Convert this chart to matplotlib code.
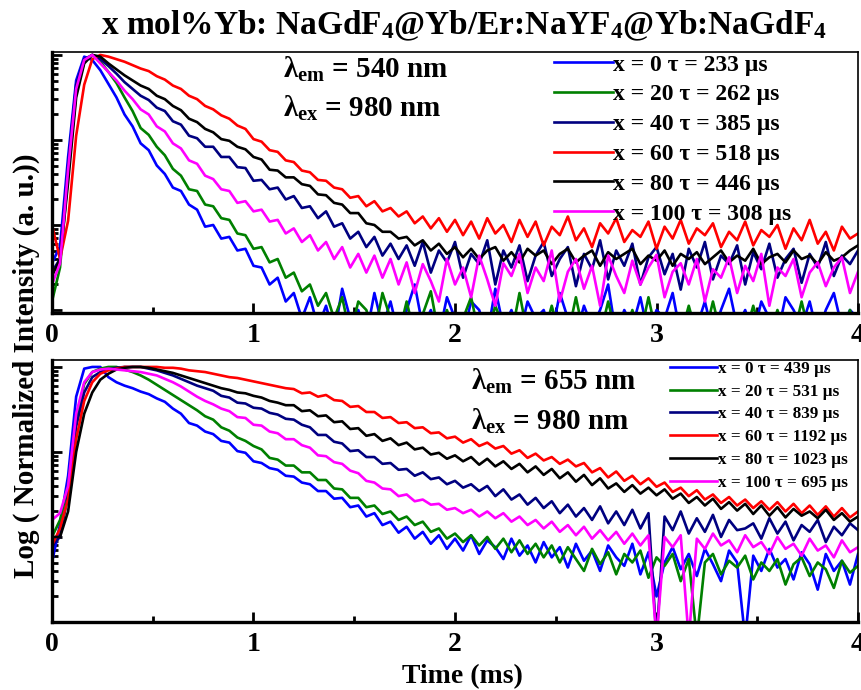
import numpy as np
import matplotlib.pyplot as plt
from matplotlib.ticker import MultipleLocator, NullFormatter, LogLocator

plt.rcParams['font.family'] = 'Liberation Serif'
plt.rcParams['font.weight'] = 'bold'
plt.rcParams['mathtext.fontset'] = 'custom'
plt.rcParams['mathtext.rm'] = 'Liberation Serif:bold'
plt.rcParams['mathtext.bf'] = 'Liberation Serif:bold'
plt.rcParams['mathtext.it'] = 'Liberation Serif:bold'

# time axis (ms), one sample every 0.04 ms
t = np.linspace(0, 4, 101)

colors = ['#0000ff', '#008000', '#000080', '#ff0000', '#000000', '#ff00ff']

# ---- top panel: 540 nm emission, log10 of normalized intensity ----
top_labels = ['x = 0 τ = 233 µs', 'x = 20 τ = 262 µs', 'x = 40 τ = 385 µs',
              'x = 60 τ = 518 µs', 'x = 80 τ = 446 µs', 'x = 100 τ = 308 µs']

top_x0 = [-2.45, -2.25, -1.20, -0.30, -0.02, -0.06, -0.18, -0.34, -0.50, -0.70,
          -0.84, -1.04, -1.12, -1.30, -1.40, -1.56, -1.60, -1.76, -1.82, -2.02,
          -2.00, -2.16, -2.14, -2.30, -2.28, -2.48, -2.50, -2.70, -2.62, -2.90,
          -2.80, -3.10, -2.85, -3.20, -2.95, -3.30, -2.75, -3.10, -3.00, -3.30,
          -2.80, -3.20, -2.90, -3.30, -3.00, -2.70, -3.20, -3.00, -3.30, -2.85,
          -3.10, -3.30, -2.90, -3.00, -3.30, -2.75, -3.20, -3.00, -3.30, -2.90,
          -3.10, -3.00, -3.30, -2.80, -3.10, -3.30, -2.95, -3.20, -3.00, -2.70,
          -3.30, -3.00, -3.20, -2.85, -3.30, -3.00, -3.10, -2.80, -3.30, -3.00,
          -3.20, -2.90, -3.30, -3.00, -2.75, -3.20, -3.00, -3.30, -2.90, -3.10,
          -3.30, -2.85, -3.00, -3.20, -2.90, -3.30, -3.00, -2.80, -3.20, -3.00,
          -3.10]
top_x20 = [-2.90, -2.50, -1.40, -0.45, -0.08, 0.00, -0.08, -0.20, -0.33, -0.50,
           -0.66, -0.86, -0.94, -1.08, -1.18, -1.34, -1.42, -1.58, -1.60, -1.76,
           -1.78, -1.92, -1.94, -2.10, -2.12, -2.28, -2.26, -2.44, -2.40, -2.62,
           -2.56, -2.78, -2.70, -2.95, -2.80, -3.10, -2.85, -3.30, -2.90, -3.00,
           -3.30, -2.80, -3.10, -3.30, -2.90, -3.30, -3.05, -2.78, -3.30, -3.00,
           -3.30, -3.10, -2.85, -3.30, -3.30, -2.95, -3.20, -3.30, -2.80, -3.30,
           -3.10, -3.30, -2.95, -3.30, -3.30, -2.85, -3.30, -3.10, -3.30, -2.90,
           -3.30, -3.30, -3.00, -3.30, -2.85, -3.30, -3.30, -3.05, -3.30, -2.95,
           -3.30, -3.30, -2.90, -3.30, -3.10, -3.30, -3.30, -2.95, -3.30, -3.30,
           -3.00, -3.30, -3.30, -2.90, -3.30, -3.30, -3.10, -3.30, -3.30, -3.00,
           -3.30]
top_x40 = [-2.55, -2.40, -1.30, -0.35, -0.05, 0.00, -0.05, -0.13, -0.22, -0.32,
           -0.40, -0.48, -0.53, -0.62, -0.66, -0.78, -0.82, -0.95, -0.98, -1.08,
           -1.08, -1.20, -1.20, -1.32, -1.33, -1.48, -1.47, -1.58, -1.56, -1.70,
           -1.66, -1.80, -1.78, -1.92, -1.84, -2.02, -1.98, -2.16, -2.08, -2.26,
           -2.14, -2.36, -2.22, -2.40, -2.24, -2.48, -2.20, -2.56, -2.30, -2.44,
           -2.20, -2.62, -2.34, -2.46, -2.18, -2.70, -2.30, -2.50, -2.24, -2.66,
           -2.36, -2.20, -2.60, -2.40, -2.26, -2.72, -2.34, -2.52, -2.18, -2.64,
           -2.30, -2.48, -2.22, -2.70, -2.38, -2.26, -2.58, -2.34, -2.76, -2.28,
           -2.50, -2.20, -2.64, -2.36, -2.46, -2.24, -2.70, -2.32, -2.52, -2.22,
           -2.62, -2.40, -2.28, -2.68, -2.34, -2.50, -2.20, -2.60, -2.36, -2.46,
           -2.30]
top_x60 = [-2.00, -2.40, -1.95, -0.95, -0.35, -0.05, 0.00, -0.02, -0.05, -0.08,
           -0.12, -0.16, -0.19, -0.25, -0.29, -0.36, -0.40, -0.48, -0.52, -0.60,
           -0.64, -0.71, -0.75, -0.83, -0.87, -0.99, -1.02, -1.12, -1.14, -1.24,
           -1.26, -1.36, -1.38, -1.47, -1.48, -1.56, -1.58, -1.68, -1.66, -1.78,
           -1.72, -1.84, -1.80, -1.90, -1.84, -1.98, -1.90, -2.04, -1.92, -2.08,
           -1.94, -2.12, -1.96, -2.16, -1.92, -2.10, -2.00, -2.20, -1.94, -2.14,
           -1.96, -2.24, -2.02, -2.12, -1.90, -2.18, -2.04, -2.26, -1.98, -2.10,
           -1.92, -2.20, -2.06, -2.14, -1.96, -2.28, -2.02, -2.16, -1.94, -2.22,
           -2.04, -2.12, -1.98, -2.26, -2.08, -2.18, -1.96, -2.24, -2.06, -2.14,
           -2.00, -2.28, -2.04, -2.18, -1.94, -2.22, -2.08, -2.30, -2.02, -2.16,
           -2.10]
top_x80 = [-2.60, -2.40, -1.50, -0.50, -0.10, 0.00, -0.02, -0.10, -0.17, -0.24,
           -0.30, -0.36, -0.40, -0.48, -0.52, -0.60, -0.65, -0.75, -0.79, -0.87,
           -0.91, -0.99, -1.01, -1.08, -1.11, -1.20, -1.23, -1.35, -1.36, -1.44,
           -1.44, -1.52, -1.54, -1.64, -1.65, -1.74, -1.76, -1.86, -1.86, -1.98,
           -2.00, -2.08, -2.08, -2.16, -2.14, -2.24, -2.18, -2.30, -2.22, -2.34,
           -2.26, -2.38, -2.28, -2.40, -2.30, -2.26, -2.42, -2.32, -2.44, -2.28,
           -2.36, -2.30, -2.46, -2.34, -2.28, -2.44, -2.36, -2.30, -2.48, -2.32,
           -2.40, -2.34, -2.28, -2.46, -2.36, -2.42, -2.30, -2.48, -2.34, -2.40,
           -2.32, -2.46, -2.38, -2.30, -2.44, -2.36, -2.42, -2.28, -2.46, -2.38,
           -2.34, -2.44, -2.30, -2.40, -2.36, -2.46, -2.32, -2.42, -2.38, -2.30,
           -2.24]
top_x100 = [-2.70, -2.45, -1.35, -0.40, -0.06, 0.00, -0.10, -0.20, -0.30, -0.42,
            -0.52, -0.64, -0.70, -0.84, -0.90, -1.04, -1.10, -1.24, -1.28, -1.42,
            -1.46, -1.58, -1.60, -1.74, -1.72, -1.84, -1.82, -1.96, -1.94, -2.10,
            -2.04, -2.20, -2.12, -2.30, -2.20, -2.40, -2.26, -2.50, -2.34, -2.56,
            -2.36, -2.62, -2.40, -2.70, -2.44, -2.80, -2.46, -2.66, -2.90, -2.40,
            -2.70, -2.50, -2.85, -2.36, -2.64, -2.95, -2.45, -2.60, -2.34, -2.80,
            -2.50, -2.66, -2.30, -2.90, -2.55, -2.40, -2.75, -2.48, -2.95, -2.36,
            -2.60, -2.80, -2.42, -2.70, -2.50, -2.35, -2.85, -2.55, -2.45, -2.70,
            -2.40, -2.90, -2.52, -2.62, -2.38, -2.80, -2.48, -2.66, -2.34, -2.95,
            -2.50, -2.60, -2.40, -2.85, -2.56, -2.44, -2.72, -2.50, -2.38, -2.80,
            -2.55]

# ---- bottom panel: 655 nm emission ----
bot_labels = ['x = 0 τ = 439 µs', 'x = 20 τ = 531 µs', 'x = 40 τ = 839 µs',
              'x = 60 τ = 1192 µs', 'x = 80 τ = 1023 µs', 'x = 100 τ = 695 µs']

bot_x0 = [-2.30, -1.85, -1.28, -0.35, -0.02, 0.00, 0.00, -0.12, -0.18, -0.22,
          -0.25, -0.29, -0.32, -0.37, -0.41, -0.49, -0.55, -0.66, -0.69, -0.76,
          -0.79, -0.87, -0.89, -0.99, -1.01, -1.11, -1.13, -1.19, -1.21, -1.28,
          -1.29, -1.36, -1.38, -1.46, -1.46, -1.55, -1.54, -1.65, -1.63, -1.76,
          -1.72, -1.86, -1.82, -1.95, -1.88, -2.02, -1.94, -2.08, -1.98, -2.14,
          -2.02, -2.16, -1.98, -2.20, -2.04, -2.12, -2.26, -2.02, -2.22, -2.10,
          -2.30, -2.06, -2.24, -2.12, -2.36, -2.08, -2.28, -2.16, -2.40, -2.10,
          -2.24, -2.34, -2.08, -2.44, -2.18, -2.70, -2.30, -2.12, -2.38, -2.20,
          -2.46, -2.14, -2.32, -2.52, -2.16, -2.30, -3.20, -2.22, -2.40, -2.14,
          -2.36, -2.26, -2.50, -2.18, -2.32, -2.62, -2.20, -2.40, -2.28, -2.56,
          -2.20]
bot_x20 = [-2.00, -1.80, -1.40, -0.60, -0.20, -0.06, -0.02, 0.00, 0.00, -0.03,
           -0.06, -0.10, -0.15, -0.21, -0.27, -0.33, -0.39, -0.45, -0.51, -0.58,
           -0.62, -0.71, -0.75, -0.83, -0.87, -0.93, -0.97, -1.07, -1.09, -1.16,
           -1.16, -1.24, -1.24, -1.33, -1.33, -1.43, -1.44, -1.54, -1.54, -1.65,
           -1.63, -1.73, -1.70, -1.80, -1.76, -1.86, -1.82, -1.94, -1.90, -2.02,
           -1.96, -2.06, -1.98, -2.10, -2.00, -2.14, -2.02, -2.18, -2.04, -2.20,
           -2.08, -2.24, -2.10, -2.30, -2.12, -2.26, -2.40, -2.14, -2.32, -2.18,
           -2.44, -2.20, -2.30, -2.16, -2.48, -2.24, -2.34, -2.20, -2.52, -2.26,
           -3.20, -2.30, -2.20, -2.44, -2.28, -2.36, -2.22, -2.50, -2.30, -2.40,
           -2.26, -2.56, -2.32, -2.24, -2.46, -2.30, -2.38, -2.60, -2.28, -2.42,
           -2.34]
bot_x40 = [-2.10, -2.00, -1.50, -0.70, -0.30, -0.12, -0.06, -0.03, -0.01, 0.00,
           0.00, 0.00, -0.02, -0.04, -0.07, -0.10, -0.14, -0.18, -0.22, -0.25,
           -0.28, -0.34, -0.36, -0.42, -0.43, -0.48, -0.49, -0.54, -0.56, -0.61,
           -0.62, -0.68, -0.71, -0.80, -0.80, -0.88, -0.90, -0.99, -0.98, -1.06,
           -1.06, -1.14, -1.13, -1.21, -1.20, -1.28, -1.24, -1.32, -1.30, -1.38,
           -1.34, -1.42, -1.38, -1.46, -1.40, -1.52, -1.44, -1.56, -1.50, -1.62,
           -1.54, -1.66, -1.58, -1.72, -1.62, -1.76, -1.66, -1.80, -1.64, -1.84,
           -1.70, -1.86, -1.68, -1.90, -1.72, -3.20, -1.76, -1.92, -1.70, -1.96,
           -1.78, -1.94, -1.74, -2.00, -1.80, -1.92, -1.90, -1.84, -2.02, -1.78,
           -1.96, -1.82, -2.04, -1.86, -1.94, -1.80, -2.06, -1.88, -1.98, -1.84,
           -1.92]
bot_x60 = [-2.10, -1.90, -1.55, -0.85, -0.40, -0.18, -0.08, -0.04, -0.02, 0.00,
           0.00, 0.00, 0.00, 0.00, -0.01, -0.01, -0.02, -0.04, -0.05, -0.06,
           -0.08, -0.10, -0.12, -0.13, -0.15, -0.17, -0.19, -0.21, -0.23, -0.25,
           -0.26, -0.31, -0.30, -0.35, -0.33, -0.39, -0.40, -0.47, -0.46, -0.53,
           -0.53, -0.60, -0.59, -0.66, -0.65, -0.72, -0.71, -0.78, -0.77, -0.84,
           -0.82, -0.89, -0.85, -0.93, -0.89, -0.96, -0.93, -1.02, -0.98, -1.07,
           -1.02, -1.10, -1.06, -1.14, -1.09, -1.17, -1.13, -1.24, -1.19, -1.30,
           -1.23, -1.34, -1.28, -1.38, -1.31, -1.41, -1.36, -1.47, -1.42, -1.52,
           -1.45, -1.56, -1.50, -1.60, -1.53, -1.63, -1.56, -1.66, -1.58, -1.68,
           -1.59, -1.70, -1.61, -1.72, -1.63, -1.74, -1.64, -1.76, -1.66, -1.77,
           -1.70]
bot_x80 = [-2.00, -2.00, -1.70, -1.00, -0.55, -0.30, -0.15, -0.08, -0.03, -0.01,
           0.00, 0.00, -0.01, -0.03, -0.05, -0.07, -0.10, -0.13, -0.16, -0.19,
           -0.22, -0.25, -0.27, -0.30, -0.31, -0.34, -0.36, -0.40, -0.42, -0.45,
           -0.45, -0.52, -0.51, -0.58, -0.57, -0.65, -0.64, -0.73, -0.72, -0.81,
           -0.79, -0.87, -0.84, -0.92, -0.89, -0.97, -0.95, -1.03, -1.01, -1.08,
           -1.04, -1.11, -1.06, -1.15, -1.08, -1.17, -1.11, -1.20, -1.14, -1.24,
           -1.17, -1.27, -1.20, -1.31, -1.24, -1.35, -1.27, -1.39, -1.31, -1.43,
           -1.37, -1.47, -1.39, -1.49, -1.42, -1.51, -1.44, -1.55, -1.49, -1.60,
           -1.53, -1.63, -1.55, -1.67, -1.59, -1.69, -1.61, -1.73, -1.63, -1.75,
           -1.65, -1.77, -1.67, -1.75, -1.70, -1.78, -1.68, -1.80, -1.72, -1.82,
           -1.76]
bot_x100 = [-1.80, -1.72, -1.40, -0.55, -0.18, -0.06, -0.03, -0.02, -0.03, -0.04,
            -0.05, -0.06, -0.08, -0.10, -0.14, -0.18, -0.23, -0.29, -0.35, -0.40,
            -0.44, -0.49, -0.52, -0.59, -0.60, -0.68, -0.69, -0.76, -0.78, -0.85,
            -0.85, -0.92, -0.95, -1.04, -1.05, -1.12, -1.14, -1.22, -1.25, -1.34,
            -1.36, -1.43, -1.44, -1.52, -1.50, -1.58, -1.56, -1.62, -1.61, -1.68,
            -1.66, -1.72, -1.68, -1.76, -1.70, -1.78, -1.72, -1.82, -1.76, -1.86,
            -1.80, -1.90, -1.82, -1.94, -1.86, -1.98, -1.88, -2.02, -1.92, -2.04,
            -1.94, -2.08, -1.96, -2.10, -1.98, -3.20, -2.00, -2.12, -1.98, -3.20,
            -2.02, -2.14, -1.96, -2.10, -2.04, -2.18, -1.98, -2.12, -2.06, -2.20,
            -2.00, -2.14, -2.08, -2.22, -2.02, -2.16, -2.10, -2.24, -2.04, -2.18,
            -2.12]

top_series = [top_x0, top_x20, top_x40, top_x60, top_x80, top_x100]
bot_series = [bot_x0, bot_x20, bot_x40, bot_x60, bot_x80, bot_x100]

fig = plt.figure(figsize=(8.62, 6.9), dpi=100)
ax1 = fig.add_axes([0.0603, 0.5464, 0.9351, 0.3783])
ax2 = fig.add_axes([0.0603, 0.0986, 0.9351, 0.3797])


def style_axis(ax, ylim):
    ax.set_yscale('log')
    ax.set_xlim(0, 4)
    ax.set_ylim(*ylim)
    ax.xaxis.set_major_locator(MultipleLocator(1))
    ax.xaxis.set_minor_locator(MultipleLocator(0.5))
    ax.yaxis.set_major_locator(LogLocator(base=10))
    ax.yaxis.set_minor_locator(LogLocator(base=10, subs=np.arange(2, 10)))
    ax.yaxis.set_major_formatter(NullFormatter())
    ax.yaxis.set_minor_formatter(NullFormatter())
    ax.tick_params(which='both', direction='in', top=False, right=False,
                   width=2, labelsize=20, pad=7)
    ax.tick_params(which='major', length=7)
    ax.tick_params(which='minor', length=4)
    for s in ['left', 'bottom']:
        ax.spines[s].set_linewidth(2.4)
    for s in ['top', 'right']:
        ax.spines[s].set_linewidth(1.2)
    ax.set_xticks([0, 1, 2, 3, 4])
    ax.set_xticklabels(['0', '1', '2', '3', '4'], fontweight='bold')


for vals, lab, c in zip(top_series, top_labels, colors):
    ax1.plot(t, 10 ** np.array(vals), color=c, lw=1.9, label=lab)
style_axis(ax1, (10 ** -3.035, 10 ** 0.035))
ax1.legend(loc='upper left', bbox_to_anchor=(0.617, 1.01), frameon=False,
           prop={'family': 'Liberation Serif', 'weight': 'bold', 'size': 17},
           handlelength=2.5, handletextpad=0.0, labelspacing=0.35,
           borderaxespad=0.0, borderpad=0.2)
ax1.text(0.287, 0.935, r'λ$_{\rm em}$ = 540 nm', transform=ax1.transAxes,
         fontsize=21, fontweight='bold', va='center')
ax1.text(0.287, 0.785, r'λ$_{\rm ex}$ = 980 nm', transform=ax1.transAxes,
         fontsize=21, fontweight='bold', va='center')

for vals, lab, c in zip(bot_series, bot_labels, colors):
    ax2.plot(t, 10 ** np.array(vals), color=c, lw=1.9, label=lab)
style_axis(ax2, (10 ** -3.0, 10 ** 0.082))
ax2.legend(loc='upper left', bbox_to_anchor=(0.762, 1.01), frameon=False,
           prop={'family': 'Liberation Serif', 'weight': 'bold', 'size': 12.3},
           handlelength=2.8, handletextpad=0.05, labelspacing=0.4,
           borderaxespad=0.0, borderpad=0.2)
ax2.text(0.52, 0.92, r'λ$_{\rm em}$ = 655 nm', transform=ax2.transAxes,
         fontsize=21, fontweight='bold', va='center')
ax2.text(0.52, 0.765, r'λ$_{\rm ex}$ = 980 nm', transform=ax2.transAxes,
         fontsize=21, fontweight='bold', va='center')

fig.text(0.538, 0.962, r'x mol%Yb: NaGdF$_4$@Yb/Er:NaYF$_4$@Yb:NaGdF$_4$',
         ha='center', va='center', fontsize=24, fontweight='bold')
fig.text(0.03, 0.47, 'Log ( Normalized Intensity (a. u.))', rotation=90,
         ha='center', va='center', fontsize=21, fontweight='bold')
fig.text(0.536, 0.02, 'Time (ms)', ha='center', va='center',
         fontsize=20, fontweight='bold')

fig.savefig('out.png', dpi=100)
